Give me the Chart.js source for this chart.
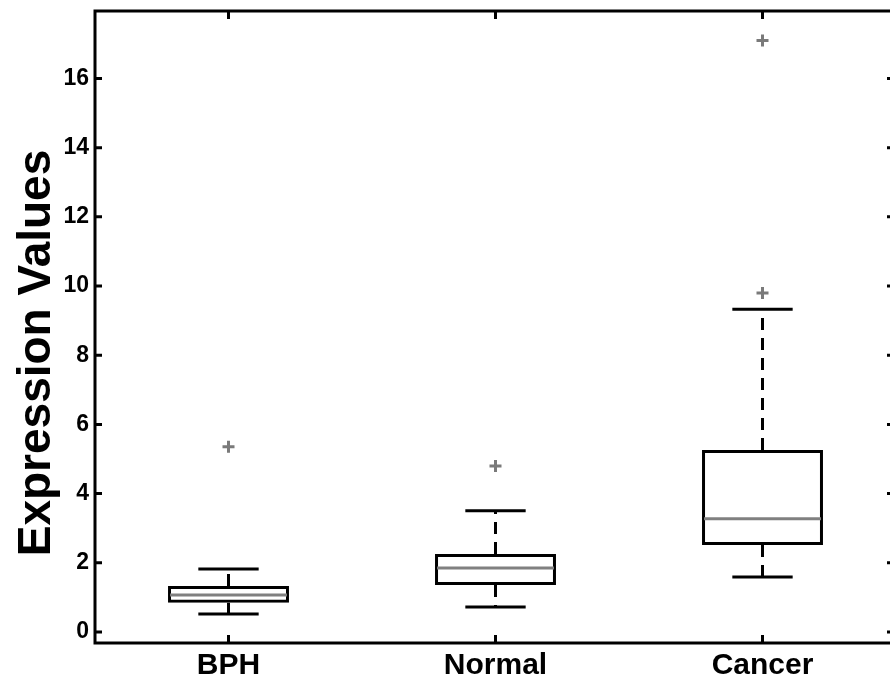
<!DOCTYPE html>
<html>
<head>
<meta charset="utf-8">
<script src="https://cdn.jsdelivr.net/npm/chart.js@4/dist/chart.umd.min.js"></script>
<style>
  html, body { margin: 0; padding: 0; background: #fff; overflow: hidden; }
  #wrap { width: 900px; height: 680px; }
</style>
</head>
<body>
<div id="wrap"><canvas id="c" width="900" height="680"></canvas></div>
<script>
// ---- data ----
const categories   = ['BPH', 'Normal', 'Cancer'];
const q1Values     = [0.84, 1.36, 2.51];
const q3Values     = [1.33, 2.25, 5.26];
const medianValues = [1.07, 1.85, 3.27];
const whiskerLow   = [0.52, 0.72, 1.59];
const whiskerHigh  = [1.82, 3.50, 9.33];
const outlierCats  = ['BPH', 'Normal', 'Cancer', 'Cancer'];
const outlierVals  = [5.35, 4.80, 9.80, 17.10];
const yTickValues  = [0, 2, 4, 6, 8, 10, 12, 14, 16];
const yTitle       = 'Expression Values';

Chart.defaults.font.family = '"Liberation Sans", Arial, Helvetica, sans-serif';
Chart.defaults.color = '#000';

const boxPlugin = {
  id: 'boxParts',
  afterDatasetsDraw(chart) {
    const ctx = chart.ctx, x = chart.scales.x, y = chart.scales.y;
    const spacing = x.getPixelForValue(1) - x.getPixelForValue(0);
    const capHalf = spacing * 0.113;
    const boxHalf = spacing * 0.2265;
    ctx.save();
    categories.forEach((c, i) => {
      const cx = x.getPixelForValue(i);
      ctx.strokeStyle = '#000';
      ctx.lineWidth = 3;
      ctx.setLineDash([12, 8]);
      ctx.beginPath();
      ctx.moveTo(cx, y.getPixelForValue(q3Values[i]));
      ctx.lineTo(cx, y.getPixelForValue(whiskerHigh[i]));
      ctx.moveTo(cx, y.getPixelForValue(q1Values[i]));
      ctx.lineTo(cx, y.getPixelForValue(whiskerLow[i]));
      ctx.stroke();
      ctx.setLineDash([]);
      ctx.beginPath();
      [whiskerHigh[i], whiskerLow[i]].forEach(v => {
        const py = y.getPixelForValue(v);
        ctx.moveTo(cx - capHalf, py);
        ctx.lineTo(cx + capHalf, py);
      });
      ctx.stroke();
      ctx.strokeStyle = '#808080';
      ctx.beginPath();
      const my = y.getPixelForValue(medianValues[i]);
      ctx.moveTo(cx - boxHalf + 2, my);
      ctx.lineTo(cx + boxHalf - 2, my);
      ctx.stroke();
    });
    ctx.restore();
  },
  afterDraw(chart) {
    const ctx = chart.ctx, a = chart.chartArea, x = chart.scales.x, y = chart.scales.y;
    ctx.save();
    ctx.strokeStyle = '#000';
    ctx.lineWidth = 3;
    ctx.strokeRect(a.left, a.top, a.right - a.left, a.bottom - a.top);
    ctx.beginPath();
    y.ticks.forEach(t => {
      const py = y.getPixelForValue(t.value);
      ctx.moveTo(a.left, py); ctx.lineTo(a.left + 7, py);
      ctx.moveTo(a.right, py); ctx.lineTo(a.right - 9, py);
    });
    categories.forEach((c, i) => {
      const px = x.getPixelForValue(i);
      ctx.moveTo(px, a.bottom); ctx.lineTo(px, a.bottom - 8);
      ctx.moveTo(px, a.top); ctx.lineTo(px, a.top + 8);
    });
    ctx.stroke();
    ctx.fillStyle = '#000';
    ctx.font = 'bold 46px "Liberation Sans", Arial, Helvetica, sans-serif';
    ctx.textAlign = 'center';
    ctx.textBaseline = 'alphabetic';
    ctx.translate(50, (a.top + a.bottom) / 2 + 26);
    ctx.rotate(-Math.PI / 2);
    ctx.fillText(yTitle, 0, 0);
    ctx.restore();
  }
};

new Chart(document.getElementById('c'), {
  type: 'bar',
  data: {
    labels: categories,
    datasets: [
      {
        type: 'bar',
        data: q1Values.map((v, i) => [v, q3Values[i]]),
        backgroundColor: 'rgba(255,255,255,0)',
        borderColor: '#000',
        borderWidth: 3,
        borderSkipped: false,
        barPercentage: 0.453,
        categoryPercentage: 1.0,
        order: 2
      },
      {
        type: 'line',
        data: outlierCats.map((c, i) => ({ x: c, y: outlierVals[i] })),
        showLine: false,
        pointStyle: 'cross',
        pointRadius: 6,
        pointBorderWidth: 3,
        pointBorderColor: '#7a7a7a',
        pointBackgroundColor: '#7a7a7a',
        order: 1
      }
    ]
  },
  options: {
    responsive: false,
    animation: false,
    layout: { autoPadding: false, padding: { left: 0, top: 11, right: 4, bottom: 0 } },
    plugins: { legend: { display: false }, tooltip: { enabled: false } },
    scales: {
      x: {
        offset: true,
        grid: { display: false, drawTicks: false },
        border: { display: false },
        ticks: { font: { size: 30, weight: 'bold' }, padding: 5, color: '#000' },
        afterFit(s) { s.height = 37; s.paddingLeft = 0; s.paddingRight = 0; }
      },
      y: {
        min: -0.32,
        max: 17.95,
        grid: { display: false, drawTicks: false },
        border: { display: false },
        afterBuildTicks(s) { s.ticks = yTickValues.map(v => ({ value: v })); },
        ticks: { font: { size: 23, weight: 'bold' }, padding: 6, color: '#000' },
        afterFit(s) { s.width = 95; s.paddingTop = 0; s.paddingBottom = 0; }
      }
    }
  },
  plugins: [boxPlugin]
});
</script>
</body>
</html>
